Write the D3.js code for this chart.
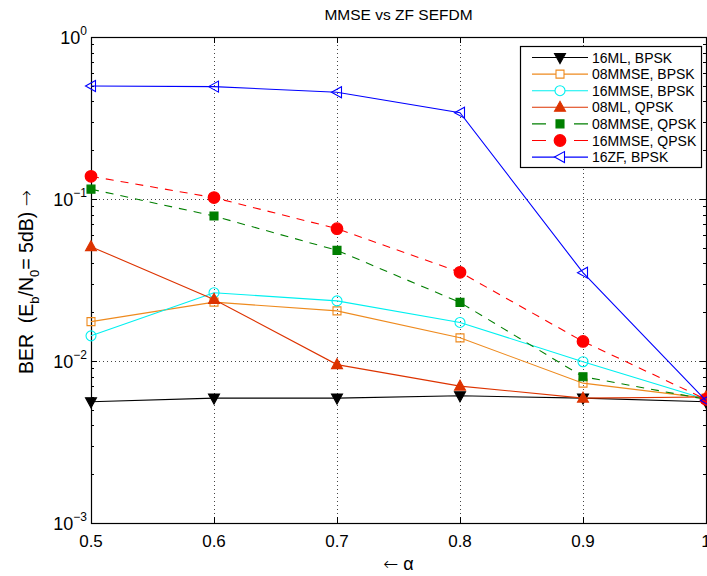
<!DOCTYPE html>
<html>
<head>
<meta charset="utf-8">
<script src="https://cdnjs.cloudflare.com/ajax/libs/d3/7.8.5/d3.min.js"></script>
<style>
  body { margin: 0; background: #fff; }
  text { font-family: "Liberation Sans", Arial, sans-serif; fill: #000; white-space: pre; }
  .arrow { font-family: "DejaVu Sans", sans-serif; font-weight: 200; }
</style>
</head>
<body>
<svg id="chart" width="707" height="576"></svg>
<script>
// data
const alphas = [0.5, 0.6, 0.7, 0.8, 0.9, 1.0];
const ml16Bpsk    = [0.0056, 0.0059, 0.0059, 0.0061, 0.0059, 0.0056];
const mmse08Bpsk  = [0.0175, 0.0231, 0.0204, 0.0139, 0.0073, 0.0059];
const mmse16Bpsk  = [0.0143, 0.0264, 0.0235, 0.0173, 0.0099, 0.0058];
const ml08Qpsk    = [0.0508, 0.0240, 0.0095, 0.0070, 0.0059, 0.0060];
const mmse08Qpsk  = [0.115, 0.0785, 0.0482, 0.0230, 0.0080, 0.0058];
const mmse16Qpsk  = [0.138, 0.102, 0.0656, 0.0353, 0.0132, 0.0058];
const zf16Bpsk    = [0.498, 0.494, 0.456, 0.341, 0.0351, 0.0057];
const xTicks = [0.5, 0.6, 0.7, 0.8, 0.9, 1.0];
const xTickLabels = ["0.5", "0.6", "0.7", "0.8", "0.9", "1"];
const yDecades = [-3, -2, -1, 0];

const series = [
  { name: "16ML, BPSK",    values: ml16Bpsk,   color: "#000000", marker: "triDown", fill: true,  dash: null },
  { name: "08MMSE, BPSK",  values: mmse08Bpsk, color: "#EE8A1E", marker: "square",  fill: false, dash: null },
  { name: "16MMSE, BPSK",  values: mmse16Bpsk, color: "#00F0F0", marker: "circle",  fill: false, dash: null },
  { name: "08ML, QPSK",    values: ml08Qpsk,   color: "#DD3300", marker: "triUp",   fill: true,  dash: null },
  { name: "08MMSE, QPSK",  values: mmse08Qpsk, color: "#007F00", marker: "square",  fill: true,  dash: "8,7" },
  { name: "16MMSE, QPSK",  values: mmse16Qpsk, color: "#FF0000", marker: "circle",  fill: true,  dash: "8,7" },
  { name: "16ZF, BPSK",    values: zf16Bpsk,   color: "#0000FF", marker: "triLeft", fill: false, dash: null }
];

const pLeft = 91, pRight = 706, pTop = 37, pBottom = 523;
const svg = d3.select('#chart');

const xScale = d3.scaleLinear().domain([0.5, 1.0]).range([pLeft, pRight]);
const yScale = d3.scaleLog().domain([1e-3, 1]).range([pBottom, pTop]);

// grid (dotted) at major ticks
const grid = svg.append('g').attr('stroke', '#444').attr('stroke-width', 1).attr('stroke-dasharray', '1,3');
xTicks.slice(1, -1).forEach(v => {
  grid.append('line').attr('x1', Math.round(xScale(v)) + 0.5).attr('x2', Math.round(xScale(v)) + 0.5)
    .attr('y1', pTop).attr('y2', pBottom);
});
yDecades.slice(1, -1).forEach(e => {
  const y = Math.round(yScale(Math.pow(10, e))) + 0.5;
  grid.append('line').attr('x1', pLeft).attr('x2', pRight).attr('y1', y).attr('y2', y);
});

// ticks
const ticks = svg.append('g').attr('stroke', '#000').attr('stroke-width', 1);
xTicks.forEach(v => {
  const x = Math.round(xScale(v)) + 0.5;
  ticks.append('line').attr('x1', x).attr('x2', x).attr('y1', pBottom).attr('y2', pBottom - 6);
  ticks.append('line').attr('x1', x).attr('x2', x).attr('y1', pTop).attr('y2', pTop + 6);
});
for (let e = -3; e < 0; e++) {
  for (let m = 1; m <= 10; m++) {
    const v = m * Math.pow(10, e);
    const y = Math.round(yScale(v)) + 0.5;
    const len = (m === 1 || m === 10) ? 6 : 3;
    ticks.append('line').attr('x1', pLeft).attr('x2', pLeft + len).attr('y1', y).attr('y2', y);
    ticks.append('line').attr('x1', pRight).attr('x2', pRight - len).attr('y1', y).attr('y2', y);
  }
}

// box
svg.append('rect').attr('x', pLeft + 0.5).attr('y', pTop + 0.5)
  .attr('width', pRight - pLeft).attr('height', pBottom - pTop)
  .attr('fill', 'none').attr('stroke', '#000').attr('stroke-width', 1.2);

// tick labels
svg.append('g').selectAll('text').data(xTicks).enter().append('text')
  .attr('x', d => xScale(d)).attr('y', pBottom + 24)
  .attr('text-anchor', 'middle').attr('font-size', 17)
  .text((d, i) => xTickLabels[i]);

yDecades.forEach(e => {
  const t = svg.append('text').attr('x', 87).attr('y', yScale(Math.pow(10, e)) + 7)
    .attr('text-anchor', 'end').attr('font-size', 18);
  t.append('tspan').text('10');
  t.append('tspan').attr('dy', -9).attr('font-size', 12).text(e === 0 ? '0' : '\u2212' + (-e));
});

// title and axis labels
svg.append('text').attr('x', (pLeft + pRight) / 2).attr('y', 20)
  .attr('text-anchor', 'middle').attr('font-size', 15.5).text('MMSE vs ZF SEFDM');

const xl = svg.append('text').attr('x', (pLeft + pRight) / 2).attr('y', 570)
  .attr('text-anchor', 'middle').attr('font-size', 18);
xl.append('tspan').attr('class', 'arrow').text('\u2190');
xl.append('tspan').text(' \u03b1');

const yl = svg.append('text').attr('transform', `translate(33, ${(pTop + pBottom) / 2 + 2}) rotate(-90)`)
  .attr('text-anchor', 'middle').attr('font-size', 19.5);
yl.append('tspan').text('BER  (E');
yl.append('tspan').attr('dy', 6).attr('font-size', 13).text('b');
yl.append('tspan').attr('dy', -6).text('/N');
yl.append('tspan').attr('dy', 6).attr('font-size', 13).text('0');
yl.append('tspan').attr('dy', -6).text('= 5dB) ');
yl.append('tspan').attr('class', 'arrow').text('\u2192');

// marker shapes
function markerPath(type) {
  switch (type) {
    case 'triDown': return 'M-5.5,-4 L5.5,-4 L0,6 Z';
    case 'triUp': return 'M-5.5,4 L5.5,4 L0,-6 Z';
    case 'triLeft': return 'M-5.5,0 L4.5,-5.5 L4.5,5.5 Z';
    case 'square': return 'M-4,-4 L4,-4 L4,4 L-4,4 Z';
    case 'circle': return 'M5,0 A5,5 0 1,1 -5,0 A5,5 0 1,1 5,0 Z';
  }
}
function markerSize(s) {
  if (s.marker === 'circle' && s.fill) return 1.15;
  return 1;
}

const line = d3.line().x((d, i) => xScale(alphas[i])).y(d => yScale(d));

const plot = svg.append('g');
series.forEach(s => {
  plot.append('path').datum(s.values)
    .attr('d', line).attr('fill', 'none')
    .attr('stroke', s.color).attr('stroke-width', 1.1)
    .attr('stroke-dasharray', s.dash);
  plot.selectAll(null).data(s.values).enter().append('path')
    .attr('transform', (d, i) => `translate(${xScale(alphas[i])},${yScale(d)}) scale(${markerSize(s)})`)
    .attr('d', markerPath(s.marker))
    .attr('fill', s.fill ? s.color : 'none')
    .attr('stroke', s.color).attr('stroke-width', 1.1);
});

// legend
const lg = svg.append('g').attr('transform', 'translate(520, 46)');
lg.append('rect').attr('x', 0.5).attr('y', 0.5).attr('width', 181).attr('height', 121)
  .attr('fill', '#fff').attr('stroke', '#000').attr('stroke-width', 1.2);
const entries = lg.selectAll('.legend-entry').data(series).enter().append('g')
  .attr('class', 'legend-entry')
  .attr('transform', (d, i) => `translate(0, ${11.5 + i * 16.6})`);
entries.append('line').attr('x1', 12).attr('x2', 68).attr('y1', 0).attr('y2', 0)
  .attr('stroke', d => d.color).attr('stroke-width', 1.1)
  .attr('stroke-dasharray', d => d.dash ? '14,28,14' : null);
entries.append('path')
  .attr('transform', d => `translate(40,0) scale(${markerSize(d)})`)
  .attr('d', d => markerPath(d.marker))
  .attr('fill', d => d.fill ? d.color : '#fff')
  .attr('stroke', d => d.color).attr('stroke-width', 1.1);
entries.append('text').attr('x', 72).attr('y', 5).attr('font-size', 14).text(d => d.name);
</script>
</body>
</html>
